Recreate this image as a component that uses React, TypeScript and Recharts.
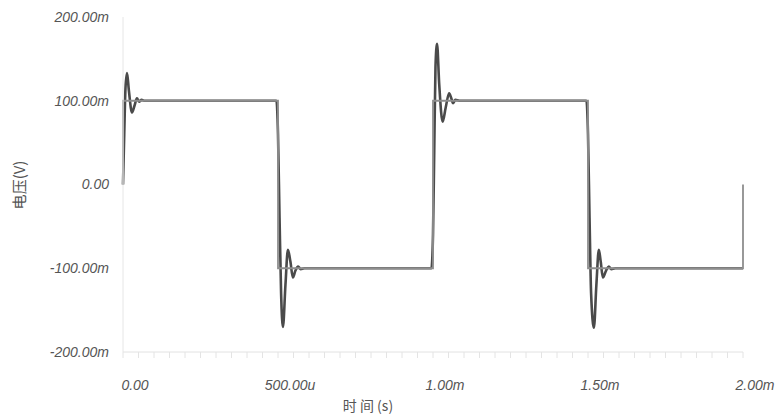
import { Line, LineChart, XAxis, YAxis, Label } from 'recharts';

// time in microseconds, voltage in millivolts
const idealTime = [0, 0, 500, 500, 1000, 1000, 1500, 1500, 2000, 2000];
const idealVolt = [0, 100, 100, -100, -100, 100, 100, -100, -100, 0];

const ringTime = [
  0, 4, 8, 13, 19, 29, 37, 45, 52, 60, 70, 495,
  500, 505, 510, 516, 524, 532, 540, 548, 556, 565, 573, 585, 995,
  1000, 1004, 1008, 1013, 1020, 1031, 1041, 1052, 1059, 1065, 1072, 1085, 1495,
  1500, 1505, 1510, 1519, 1527, 1535, 1541, 1548, 1558, 1567, 1575, 1588, 2000,
];
const ringVolt = [
  0, 60, 115, 133, 112, 86, 94, 103, 99, 101, 100, 100,
  60, -40, -130, -170, -120, -78, -92, -111, -103, -98, -101, -100, -100,
  -60, 40, 140, 168, 120, 75, 92, 109, 103, 97, 101, 100, 100,
  60, -40, -130, -171, -120, -78, -92, -111, -103, -98, -101, -100, -100,
];

const xTicks = [0, 500, 1000, 1500, 2000];
const xTickLabels = ['0.00', '500.00u', '1.00m', '1.50m', '2.00m'];
const minorTicks = [
  0, 50, 100, 150, 200, 250, 300, 350, 400, 450, 500, 550, 600, 650, 700, 750, 800, 850, 900, 950,
  1000, 1050, 1100, 1150, 1200, 1250, 1300, 1350, 1400, 1450, 1500, 1550, 1600, 1650, 1700, 1750,
  1800, 1850, 1900, 1950, 2000,
];
const yTicks = [-200, -100, 0, 100, 200];
const yTickLabels = ['-200.00m', '-100.00m', '0.00', '100.00m', '200.00m'];

const idealData = idealTime.map((t, i) => ({ t, v: idealVolt[i] }));
const ringData = ringTime.map((t, i) => ({ t, v: ringVolt[i] }));

const tickStyle = {
  fill: '#555',
  fontSize: 14,
  fontStyle: 'italic',
  fontFamily: 'Liberation Sans, Arial, sans-serif',
};

function XTick(props: any) {
  const { x, y, payload } = props;
  const idx = xTicks.indexOf(payload.value);
  return (
    <g>
      <line x1={x} y1={y - 8} x2={x} y2={y - 2} stroke="#e4e4e4" strokeWidth={1} />
      {idx >= 0 && (
        <text x={x + 12} y={y + 30} textAnchor="middle" {...tickStyle}>
          {xTickLabels[idx]}
        </text>
      )}
    </g>
  );
}

function YTitle() {
  return (
    <text
      x={18}
      y={185}
      transform="rotate(-90, 18, 185)"
      textAnchor="middle"
      dominantBaseline="central"
      fill="#555"
      fontSize={15}
      fontFamily="Noto Sans CJK SC, serif"
    >
      电压(V)
    </text>
  );
}

export default function App() {
  return (
    <div style={{ position: 'absolute', left: 0, top: 0, background: '#fff' }}>
      <LineChart
        width={784}
        height={419}
        margin={{ top: 17, right: 41, bottom: 0, left: 0 }}
      >
        <XAxis
          dataKey="t"
          type="number"
          domain={[0, 2000]}
          ticks={minorTicks}
          interval={0}
          allowDuplicatedCategory={false}
          stroke="#e2e2e2"
          tickLine={false}
          tick={<XTick />}
          height={67}
        >
          <Label
            value="时 间 (s)"
            position="insideBottom"
            offset={8}
            dx={-65}
            style={{ fill: '#555', fontSize: 14, fontFamily: 'Noto Sans CJK SC, serif' }}
          />
        </XAxis>
        <YAxis
          type="number"
          domain={[-200, 200]}
          ticks={yTicks}
          interval={0}
          width={123}
          stroke="#e6e6e6"
          tickLine={false}
          tickSize={0}
          tickMargin={14}
          tickFormatter={(v: number) => yTickLabels[yTicks.indexOf(v)]}
          tick={tickStyle}
        >
          <Label content={<YTitle />} />
        </YAxis>
        <Line
          data={ringData}
          dataKey="v"
          type="monotoneX"
          stroke="#4a4a4a"
          strokeWidth={2.6}
          dot={false}
          isAnimationActive={false}
        />
        <Line
          data={idealData}
          dataKey="v"
          type="linear"
          stroke="#8e8e8e"
          strokeWidth={1.8}
          dot={false}
          isAnimationActive={false}
        />
      </LineChart>
    </div>
  );
}
